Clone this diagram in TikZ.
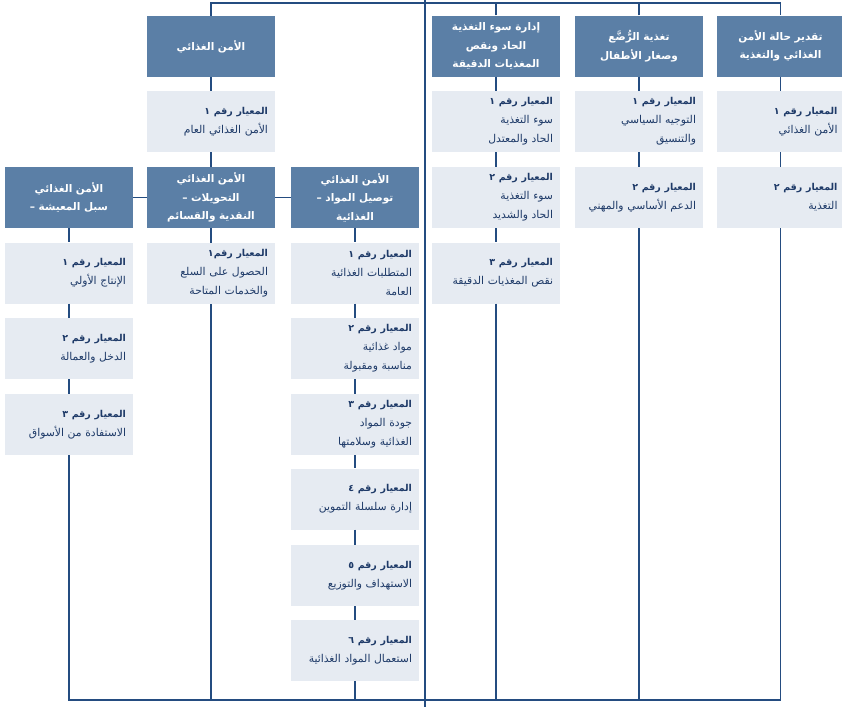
\documentclass[tikz,border=0pt]{standalone}
\usepackage{fontspec}
\usepackage{xcolor}
\newfontfamily\arabicfont[Script=Arabic]{DejaVu Sans}
\TeXXeTstate=1
\usetikzlibrary{positioning}
\definecolor{headblue}{RGB}{91,127,166}
\definecolor{critfill}{RGB}{230,235,242}
\definecolor{critink}{RGB}{30,58,104}
\definecolor{linkblue}{RGB}{36,76,128}
\newcommand{\arl}[1]{\beginR #1\endR}
\newcommand{\crt}[1]{{\fontsize{9.5}{19}\selectfont\bfseries\arl{#1}}}
\tikzset{
  head/.style={fill=headblue, text=white, minimum width=128pt, minimum height=61pt,
    inner sep=0pt, text width=120pt, align=center,
    font=\arabicfont\bfseries\fontsize{10.5}{18.5}\selectfont},
  crit/.style={fill=critfill, text=critink, minimum width=128pt, minimum height=61pt,
    inner sep=0pt, text width=114pt, align=right,
    font=\arabicfont\fontsize{10.8}{19}\selectfont},
  link/.style={draw=linkblue, line width=1.2pt}
}

\begin{document}
\begin{tikzpicture}[x=1pt,y=-1pt]
    \useasboundingbox (0,0) rectangle (842,707);
    % top row
    \node[head] (fs) at (211,46.5) {\arl{الأمن الغذائي}};
    \node[head] (mam) at (496,46) {\arl{إدارة سوء التغذية}\\\arl{الحاد ونقص}\\\arl{المغذيات الدقيقة}};
    \node[head] (iycf) at (639,46) {\arl{تغذية الرُّضَّع}\\\arl{وصغار الأطفال}};
    \node[head] (assess) at (780.5,46) {\arl{تقدير حالة الأمن}\\\arl{الغذائي والتغذية}};
    \node[crit] (fs1) at (211,121.5) {\crt{المعيار رقم ١}\\\arl{الأمن الغذائي العام}};
    \node[crit] (mam1) at (496,121.5) {\crt{المعيار رقم ١}\\\arl{سوء التغذية}\\\arl{الحاد والمعتدل}};
    \node[crit] (mam2) at (496,197.5) {\crt{المعيار رقم ٢}\\\arl{سوء التغذية}\\\arl{الحاد والشديد}};
    \node[crit] (mam3) at (496,273) {\crt{المعيار رقم ٣}\\\arl{نقص المغذيات الدقيقة}};
    \node[crit] (iycf1) at (639,121.5) {\crt{المعيار رقم ١}\\\arl{التوجيه السياسي}\\\arl{والتنسيق}};
    \node[crit] (iycf2) at (639,197.5) {\crt{المعيار رقم ٢}\\\arl{الدعم الأساسي والمهني}};
    \node[crit] (assess1) at (780.5,121.5) {\crt{المعيار رقم ١}\\\arl{الأمن الغذائي}};
    \node[crit] (assess2) at (780.5,197.5) {\crt{المعيار رقم ٢}\\\arl{التغذية}};
    % food security branches
    \node[head] (liv) at (69,197.5) {\arl{الأمن الغذائي}\\\arl{سبل المعيشة –}};
    \node[head] (cash) at (211,197.5) {\arl{الأمن الغذائي}\\\arl{التحويلات –}\\\arl{النقدية والقسائم}};
    \node[head] (fd) at (355,197.5) {\arl{الأمن الغذائي}\\\arl{توصيل المواد –}\\\arl{الغذائية}};
    \node[crit] (liv1) at (69,273) {\crt{المعيار رقم ١}\\\arl{الإنتاج الأولي}};
    \node[crit] (liv2) at (69,348.5) {\crt{المعيار رقم ٢}\\\arl{الدخل والعمالة}};
    \node[crit] (liv3) at (69,424.5) {\crt{المعيار رقم ٣}\\\arl{الاستفادة من الأسواق}};
    \node[crit] (cash1) at (211,273.5) {\crt{المعيار رقم١}\\\arl{الحصول على السلع}\\\arl{والخدمات المتاحة}};
    \node[crit] (fd1) at (355,273) {\crt{المعيار رقم ١}\\\arl{المتطلبات الغذائية}\\\arl{العامة}};
    \node[crit] (fd2) at (355,348.5) {\crt{المعيار رقم ٢}\\\arl{مواد غذائية}\\\arl{مناسبة ومقبولة}};
    \node[crit] (fd3) at (355,424.5) {\crt{المعيار رقم ٣}\\\arl{جودة المواد}\\\arl{الغذائية وسلامتها}};
    \node[crit] (fd4) at (355,499) {\crt{المعيار رقم ٤}\\\arl{إدارة سلسلة التموين}};
    \node[crit] (fd5) at (355,575.5) {\crt{المعيار رقم ٥}\\\arl{الاستهداف والتوزيع}};
    \node[crit] (fd6) at (355,650.5) {\crt{المعيار رقم ٦}\\\arl{استعمال المواد الغذائية}};
    % connectors
    \coordinate (topbus) at (0,3);
    \coordinate (botbus) at (0,700);
    \draw[link] (fs.north) -- (fs.north |- topbus) -- (assess.north |- topbus) -- (assess.north);
    \draw[link] (mam.north) -- (mam.north |- topbus);
    \draw[link] (iycf.north) -- (iycf.north |- topbus);
    \foreach \a/\b in {fs/fs1, fs1/cash, cash/cash1, liv/liv1, liv1/liv2, liv2/liv3,
        fd/fd1, fd1/fd2, fd2/fd3, fd3/fd4, fd4/fd5, fd5/fd6, mam/mam1, mam1/mam2, mam2/mam3,
        iycf/iycf1, iycf1/iycf2, assess/assess1, assess1/assess2}
      \draw[link] (\a.south) -- (\b.north);
    \draw[link] (liv.east) -- (cash.west);
    \draw[link] (cash.east) -- (fd.west);
    \draw[link] (liv3.south) -- (liv3.south |- botbus) -- (assess2.south |- botbus) -- (assess2.south);
    \foreach \n in {cash1, fd6, mam3, iycf2}
      \draw[link] (\n.south) -- (\n.south |- botbus);
    \draw[linkblue, line width=2pt] (425,0) -- (425,707);
\end{tikzpicture}
\end{document}
